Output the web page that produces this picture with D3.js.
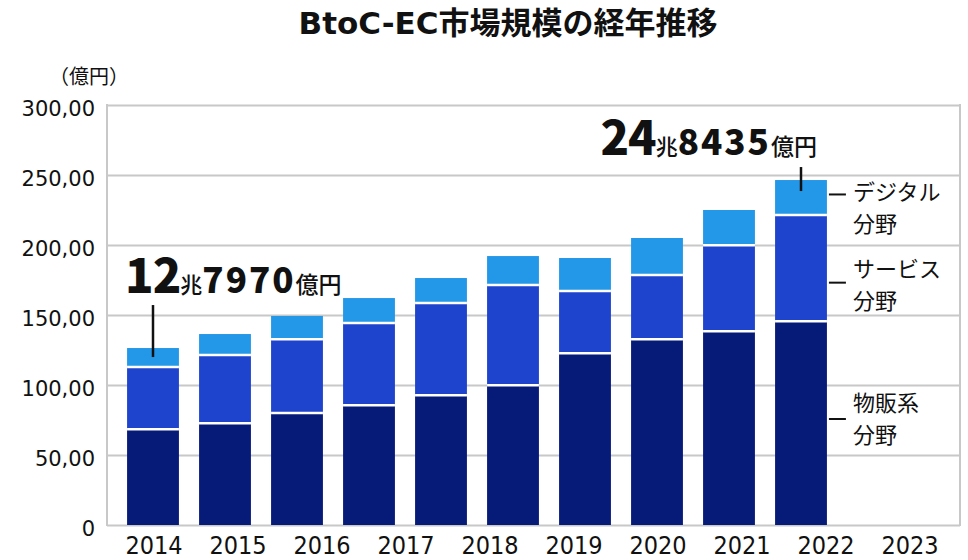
<!DOCTYPE html>
<html>
<head>
<meta charset="utf-8">
<script src="https://cdn.jsdelivr.net/npm/d3@7"></script>
<style>
  html, body { margin: 0; padding: 0; background: #fff; }
  svg { display: block; }
</style>
</head>
<body>
<svg id="chart"></svg>
<script>
// BtoC-EC market size, 億円
const years = ['2014', '2015', '2016', '2017', '2018', '2019', '2020', '2021', '2022', '2023'];
const goods = [68400, 72600, 80000, 85500, 92600, 99800, 122600, 132600, 138400, 145500];
const service = [44500, 48800, 52600, 58800, 66000, 71600, 44500, 46000, 61400, 75900];
const digital = [13500, 15000, 16700, 17800, 17800, 20700, 23600, 26400, 25200, 25000];
const seriesKeys = ['goods', 'service', 'digital'];
const seriesNames = [['物販系', '分野'], ['サービス', '分野'], ['デジタル', '分野']];
const yTicks = [0, 50000, 100000, 150000, 200000, 250000, 300000];
const yTickLabels = ['0', '50,00', '100,00', '150,00', '200,00', '250,00', '300,00'];

const width = 968;
const height = 560;
const plotLeft = 107, plotRight = 960, plotTop = 105, plotBottom = 525;
const colors = d3.scaleOrdinal().domain(seriesKeys).range(['#061a78', '#1e43cd', '#2397e8']);
const latin = '"DejaVu Sans", "Noto Sans CJK JP", sans-serif';
const cjk = '"Noto Sans CJK JP", sans-serif';

const rows = years.map((yr, i) => ({ year: yr, goods: goods[i], service: service[i], digital: digital[i] }));
const stacked = d3.stack().keys(seriesKeys)(rows);

const svg = d3.select('#chart').attr('width', width).attr('height', height);

const y = d3.scaleLinear().domain([0, 300000]).range([plotBottom, plotTop]);
// bars sit in the left part of the plot, year labels are spread over the whole width
const xBar = d3.scaleBand().domain(years).range([117, 837]).paddingInner(0.28).paddingOuter(0.14);
const xLabel = d3.scaleBand().domain(years).range([112, 952]);

// grid
const grid = svg.append('g')
    .attr('transform', `translate(${plotLeft},0)`)
    .call(d3.axisLeft(y).tickValues(yTicks).tickSize(-(plotRight - plotLeft)).tickFormat(''));
grid.select('.domain').remove();
grid.selectAll('line').attr('stroke', '#c8c8c8').attr('stroke-width', 2);

svg.append('line').attr('x1', plotLeft).attr('x2', plotLeft).attr('y1', plotTop - 1).attr('y2', plotBottom + 1)
    .attr('stroke', '#c8c8c8').attr('stroke-width', 2);
svg.append('line').attr('x1', plotRight).attr('x2', plotRight).attr('y1', plotTop - 1).attr('y2', plotBottom + 1)
    .attr('stroke', '#c8c8c8').attr('stroke-width', 2);

// y labels
svg.append('g').selectAll('text')
    .data(yTicks)
    .enter()
    .append('text')
    .attr('x', 95)
    .attr('y', d => y(d) + 4)
    .attr('dy', '0.35em')
    .attr('text-anchor', 'end')
    .style('font-family', latin)
    .style('font-size', '21px')
    .attr('fill', '#111')
    .text((d, i) => yTickLabels[i]);

svg.append('text')
    .attr('x', 49).attr('y', 84)
    .style('font-family', cjk).style('font-size', '20px').attr('fill', '#111')
    .text('（億円）');

// bars
const layers = svg.append('g').selectAll('g')
    .data(stacked)
    .enter()
    .append('g')
    .attr('fill', d => colors(d.key));

layers.selectAll('rect')
    .data(d => d)
    .enter()
    .append('rect')
    .attr('x', d => xBar(d.data.year))
    .attr('width', xBar.bandwidth())
    .attr('y', d => y(d[1]))
    .attr('height', d => y(d[0]) - y(d[1]));

// white gaps between segments
svg.append('g').selectAll('line')
    .data(stacked.slice(0, 2).flatMap(s => s))
    .enter()
    .append('line')
    .attr('x1', d => xBar(d.data.year))
    .attr('x2', d => xBar(d.data.year) + xBar.bandwidth())
    .attr('y1', d => y(d[1]))
    .attr('y2', d => y(d[1]))
    .attr('stroke', '#fff')
    .attr('stroke-width', 2.5);

// x labels
svg.append('g').selectAll('text')
    .data(years)
    .enter()
    .append('text')
    .attr('x', d => xLabel(d) + xLabel.bandwidth() / 2)
    .attr('y', 554)
    .attr('text-anchor', 'middle')
    .style('font-family', '"DejaVu Sans Condensed", "DejaVu Sans", sans-serif')
    .style('font-size', '25px')
    .attr('fill', '#111')
    .text(d => d);

// title
svg.append('text')
    .attr('x', 508).attr('y', 34)
    .attr('text-anchor', 'middle')
    .style('font-family', latin)
    .style('font-size', '31px')
    .style('font-weight', 'bold')
    .attr('fill', '#111')
    .text('BtoC-EC市場規模の経年推移');

// total callouts
function callout(idx, parts, anchor, tx, ty, lineTop, lineBottom) {
    const cx = xBar(years[idx]) + xBar.bandwidth() / 2;
    const t = svg.append('text')
        .attr('x', tx).attr('y', ty)
        .attr('text-anchor', anchor)
        .attr('fill', '#111');
    parts.forEach(p => {
        t.append('tspan')
            .style('font-family', cjk)
            .style('font-size', p[1] + 'px')
            .style('font-weight', p[2])
            .style('letter-spacing', (p[3] || 0) + 'px')
            .text(p[0]);
    });
    svg.append('line')
        .attr('x1', cx).attr('x2', cx)
        .attr('y1', lineTop).attr('y2', lineBottom)
        .attr('stroke', '#111').attr('stroke-width', 2.5);
}

const total = years.map((yr, i) => goods[i] + service[i] + digital[i]);
const first = 0, last = years.length - 1;
callout(first, [['12', 47, 900, -1], ['兆', 22, 500], ['7970', 35, 900, 2], ['億円', 23, 500]],
    'start', xBar(years[first]) - 2, y(total[first]) - 55, y(total[first]) - 43, y(total[first]) + 9);
callout(last, [['24', 47, 900, -1], ['兆', 22, 500], ['8435', 35, 900, 2], ['億円', 23, 500]],
    'end', xBar(years[last]) + xBar.bandwidth() - 10, y(total[last]) - 25, y(total[last]) - 13, y(total[last]) + 11);

// series labels on the right, two lines each
const tickAt = [75700, 173100, 236100];
const textAt = [76400, 172100, 226800];
const lx = xBar(years[last]) + xBar.bandwidth();
seriesNames.forEach((lines, i) => {
    svg.append('line')
        .attr('x1', lx + 2).attr('x2', lx + 19)
        .attr('y1', y(tickAt[i])).attr('y2', y(tickAt[i]))
        .attr('stroke', '#111').attr('stroke-width', 2);
    const c = y(textAt[i]);
    lines.forEach((s, j) => {
        svg.append('text')
            .attr('x', lx + 26)
            .attr('y', c - 7 + j * 32)
            .style('font-family', cjk)
            .style('font-size', '22px')
            .attr('fill', '#111')
            .text(s);
    });
});
</script>
</body>
</html>
